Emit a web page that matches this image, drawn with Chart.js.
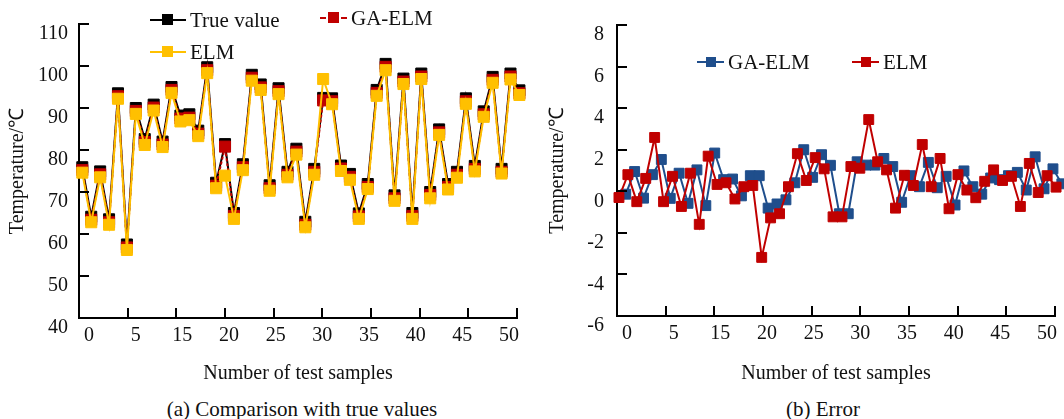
<!DOCTYPE html>
<html>
<head>
<meta charset="utf-8">
<script src="https://cdn.jsdelivr.net/npm/chart.js@4.4.1/dist/chart.umd.min.js"></script>
<style>
  body { margin: 0; background: #fff; width: 1064px; height: 419px; overflow: hidden; position: relative;
         font-family: 'Liberation Serif', 'Times New Roman', serif; color: #111; }
  .box { position: absolute; top: 0; height: 395px; }
  .leg { position: absolute; display: flex; align-items: center; height: 24px; font-size: 21px; white-space: nowrap; }
  .leg .ln { position: relative; height: 0; border-top: 2px solid; margin-right: 4px; }
  .leg .mk { position: absolute; left: 50%; width: 11px; height: 11px; margin-left: -6px; top: -7px; }
  .cap { position: absolute; font-size: 21px; transform: translate(-50%, -50%); white-space: nowrap; }
</style>
</head>
<body>
<div class="box" style="left:0;width:540px"><canvas id="cmpChart"></canvas></div>
<div class="box" style="left:540px;width:524px"><canvas id="errChart"></canvas></div>

<div class="leg" style="left:150px;top:8px"><span class="ln" style="width:36px;border-color:#000"><span class="mk" style="background:#000"></span></span>True value</div>
<div class="leg" style="left:320px;top:6px"><span class="ln" style="width:27px;border-color:#c00000;border-top-style:dashed"><span class="mk" style="background:#c00000"></span></span>GA-ELM</div>
<div class="leg" style="left:150px;top:40px"><span class="ln" style="width:36px;border-color:#ffc000"><span class="mk" style="background:#ffc000"></span></span>ELM</div>
<div class="leg" style="left:697px;top:50px"><span class="ln" style="width:27px;border-color:#1f4e8c"><span class="mk" style="background:#1f4e8c;width:10px;height:10px;margin-left:-5px;top:-6px"></span></span>GA-ELM</div>
<div class="leg" style="left:852px;top:50px"><span class="ln" style="width:27px;border-color:#c00000"><span class="mk" style="background:#c00000;width:10px;height:10px;margin-left:-5px;top:-6px"></span></span>ELM</div>

<div class="cap" style="left:302px;top:409px">(a) Comparison with true values</div>
<div class="cap" style="left:823px;top:409px">(b) Error</div>

<script>
// 軸ラベル（元図のまま、10が抜けている）
const xTickLabels = ['0', '5', '15', '20', '25', '30', '35', '40', '45', '50'];

// (a) 実測値と予測値
const trueValues = [75.9, 64.1, 74.9, 63.5, 93.5, 57.5, 90.0, 82.6, 90.8, 82.0,
                    95.0, 88.2, 88.5, 84.6, 99.7, 72.2, 81.4, 65.0, 76.6, 97.9,
                    95.6, 71.6, 94.7, 74.8, 80.3, 62.9, 75.5, 92.4, 92.3, 76.3,
                    74.3, 64.9, 71.9, 94.3, 100.5, 69.2, 97.0, 65.0, 98.2, 70.0,
                    84.9, 71.9, 74.8, 92.3, 76.2, 89.2, 97.4, 75.5, 98.2, 94.2];
const gaElmPred = [75.2, 63.4, 74.2, 62.8, 92.8, 56.8, 89.3, 81.9, 90.1, 81.3,
                   94.3, 87.5, 87.7, 83.9, 99.0, 71.5, 80.8, 64.3, 75.9, 97.2,
                   94.9, 70.9, 94.0, 74.1, 79.6, 62.2, 74.8, 91.8, 91.6, 75.6,
                   73.6, 64.2, 71.2, 93.6, 99.8, 68.5, 96.3, 64.3, 97.5, 69.3,
                   84.2, 71.2, 74.1, 91.6, 75.5, 88.5, 96.7, 74.8, 97.5, 93.5];
const elmPred = [74.6, 62.8, 73.5, 62.2, 92.2, 56.2, 88.6, 81.2, 89.4, 80.7,
                 93.6, 86.8, 87.1, 83.3, 98.3, 70.9, 73.9, 63.6, 75.2, 96.5,
                 94.3, 70.3, 93.3, 73.5, 78.9, 61.6, 74.1, 96.9, 90.9, 75.0,
                 72.9, 63.6, 70.7, 92.9, 99.0, 67.9, 95.7, 63.6, 96.9, 68.5,
                 83.6, 70.6, 73.4, 91.0, 74.9, 87.9, 96.0, 74.4, 96.8, 93.1];

// (b) 誤差
const gaElmError = [-0.14, 0.95, -0.33, 0.80, 1.53, -0.34, 0.87, -0.58, 1.03, -0.69,
                    1.84, 0.56, 0.59, -0.22, 0.75, 0.75, -0.81, -0.61, -0.41, 0.41,
                    2.00, 0.67, 1.76, 1.25, -1.08, -1.08, 1.42, 1.26, 1.26, 1.58,
                    1.19, -0.53, 0.75, 0.22, 1.39, 0.17, 0.72, -0.66, 0.98, 0.22,
                    -0.14, 0.64, 0.56, 0.75, 0.91, 0.06, 1.66, 0.12, 1.08, 0.36];
const elmError = [-0.30, 0.80, -0.50, 0.62, 2.59, -0.50, 0.72, -0.73, 0.87, -1.59,
                  1.69, 0.33, 0.41, -0.37, 0.22, 0.28, -3.18, -1.28, -1.08, 0.22,
                  1.81, 0.52, 1.62, 1.08, -1.23, -1.23, 1.19, 1.11, 3.45, 1.42,
                  1.03, -0.81, 0.77, 0.28, 2.25, 0.22, 1.58, -0.84, 0.80, 0.06,
                  -0.31, 0.48, 1.03, 0.52, 0.72, -0.73, 1.34, -0.06, 0.75, 0.20];

const samples = trueValues.map((_, i) => i);

const black  = '#000000';
const red    = '#c00000';
const yellow = '#ffc000';
const blue   = '#1f4e8c';
const serif  = "'Liberation Serif', 'Times New Roman', serif";

Chart.defaults.font.family = serif;
Chart.defaults.color = '#111';
Chart.defaults.animation = false;

// 内向きの目盛り線
const innerTicks = {
    id: 'innerTicks',
    afterDraw(chart) {
        const { ctx, chartArea: a, scales } = chart;
        ctx.save();
        ctx.strokeStyle = '#000';
        ctx.lineWidth = 2;
        ctx.beginPath();
        scales.y.ticks.forEach(t => {
            const py = Math.round(scales.y.getPixelForValue(t.value));
            ctx.moveTo(a.left, py);
            ctx.lineTo(a.left + 10, py);
        });
        for (let k = 1; k <= 9; k++) {
            const px = Math.round(a.left + (a.right - a.left) * k / 9);
            ctx.moveTo(px, a.bottom);
            ctx.lineTo(px, a.bottom - 10);
        }
        ctx.stroke();
        ctx.restore();
    }
};

// ラベル位置は目盛りと少しずれている
function placeLabels(scale) {
    const w = scale.max - scale.min;
    scale.ticks = xTickLabels.map((_, i) => ({ value: scale.min + w * (10 + i * 420 / 9) / 438 }));
}

function xAxis(min, max, height) {
    return {
        type: 'linear',
        min, max,
        afterBuildTicks: placeLabels,
        afterFit: s => { s.height = height; },
        grid: { display: false, drawTicks: false },
        border: { display: true, color: '#000', width: 2 },
        ticks: { callback: (v, i) => xTickLabels[i], autoSkip: false, maxRotation: 0, padding: 6, font: { size: 20 } },
        title: { display: true, text: 'Number of test samples', font: { size: 20 }, padding: { top: 0, bottom: 9 } }
    };
}

function yAxis(min, max, step, width, pad) {
    return {
        min, max,
        afterFit: s => { s.width = width; },
        grid: { display: false, drawTicks: false },
        border: { display: true, color: '#000', width: 2 },
        ticks: { stepSize: step, padding: pad, labelOffset: 10, font: { size: 20 } },
        title: { display: true, text: 'Temperature/℃', font: { size: 20 }, padding: { top: 6, bottom: 0 } }
    };
}

function lineSet(label, data, color, opts) {
    return Object.assign({
        label, data,
        borderColor: color,
        backgroundColor: color,
        borderWidth: 2,
        pointStyle: 'rect',
        pointRadius: 7.8,
        pointBorderWidth: 1,
        pointBackgroundColor: color,
        pointBorderColor: color,
        tension: 0,
        clip: false
    }, opts);
}

new Chart(document.getElementById('cmpChart'), {
    type: 'line',
    data: {
        labels: samples,
        datasets: [
            lineSet('True value', trueValues, black, { order: 3 }),
            lineSet('GA-ELM', gaElmPred, red, { order: 2, borderDash: [3, 2] }),
            lineSet('ELM', elmPred, yellow, { order: 1 })
        ]
    },
    options: {
        responsive: true,
        maintainAspectRatio: false,
        layout: { padding: { top: 24, right: 23, left: 0, bottom: 0 } },
        plugins: { legend: { display: false }, tooltip: { enabled: false } },
        scales: {
            x: xAxis(-0.37, 48.73, 77),
            y: yAxis(40, 110, 10, 79, 11)
        }
    },
    plugins: [innerTicks]
});

new Chart(document.getElementById('errChart'), {
    type: 'line',
    data: {
        labels: samples,
        datasets: [
            lineSet('GA-ELM', gaElmError, blue, { order: 2, pointRadius: 7, xAxisID: 'xb' }),
            lineSet('ELM', elmError, red, { order: 1, pointRadius: 7 })
        ]
    },
    options: {
        responsive: true,
        maintainAspectRatio: false,
        layout: { padding: { top: 22, right: 9, left: 0, bottom: 0 } },
        plugins: { legend: { display: false }, tooltip: { enabled: false } },
        scales: {
            x: xAxis(-0.22, 48.88, 79),
            xb: { type: 'linear', display: false, min: -0.98, max: 48.23 },
            y: yAxis(-6, 8, 2, 77, 13)
        }
    },
    plugins: [innerTicks]
});
</script>
</body>
</html>
